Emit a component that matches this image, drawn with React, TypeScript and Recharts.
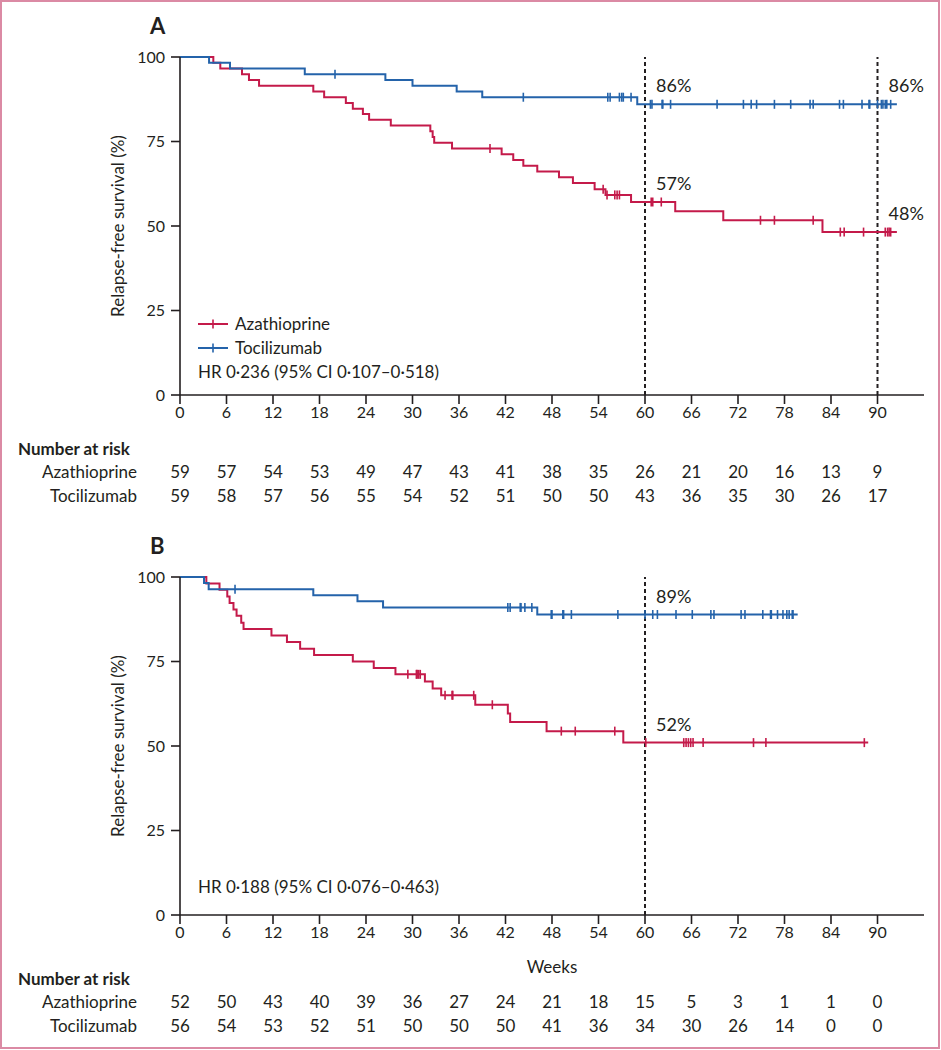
import {
    ComposedChart, Line, Scatter, XAxis, YAxis, ReferenceLine, ReferenceDot, Legend,
} from "recharts"

const INK = "#231f20"
const RED = "#c41a4a"
const BLUE = "#2463aa"
const FONT = "Lato, 'Open Sans', sans-serif"

const WEEK_TICKS = [0, 6, 12, 18, 24, 30, 36, 42, 48, 54, 60, 66, 72, 78, 84, 90]
const SURV_TICKS = [0, 25, 50, 75, 100]

// Panel A: step times (weeks) and survival (%) after each step, last point = end of follow-up
const A_AZA_TIMES = [0, 4.3, 5.2, 8.0, 8.9, 10.2, 17.2, 18.6, 21.4, 22.3, 23.6, 24.4, 27.2, 32.3, 32.6, 32.8, 35.1, 41.5, 43.0, 44.3, 46.1, 48.9, 50.7, 53.5, 54.9, 58.2, 63.9, 70.1, 82.9, 92.5]
const A_AZA_SURV = [100, 98.3, 96.6, 94.9, 93.2, 91.5, 89.8, 88.1, 86.4, 84.7, 83.1, 81.4, 79.7, 78.0, 76.3, 74.6, 72.9, 71.2, 69.5, 67.8, 66.1, 64.4, 62.7, 60.9, 59.2, 57.1, 54.4, 51.7, 48.2, 48.2]
const A_AZA_CENSOR = [40.0, 54.6, 55.1, 56.1, 56.4, 56.7, 60.8, 61.0, 62.1, 74.9, 76.7, 81.7, 85.2, 85.7, 88.2, 91.0, 91.3, 91.5, 91.7]

const A_TOC_TIMES = [0, 3.75, 6.45, 16.1, 26.5, 30.0, 35.7, 39.0, 59.0, 92.5]
const A_TOC_SURV = [100, 98.3, 96.6, 94.9, 93.2, 91.5, 89.8, 88.1, 86.0, 86.0]
const A_TOC_CENSOR = [20.0, 44.3, 55.2, 55.5, 56.7, 57.0, 57.2, 58.2, 60.7, 60.9, 62.2, 62.3, 63.3, 69.3, 72.7, 73.7, 74.4, 76.7, 78.8, 81.3, 81.7, 85.1, 85.6, 88.0, 88.9, 89.0, 90.0, 90.5, 90.7, 91.0, 91.2, 91.7]

const A_AZA_RISK = [59, 57, 54, 53, 49, 47, 43, 41, 38, 35, 26, 21, 20, 16, 13, 9]
const A_TOC_RISK = [59, 58, 57, 56, 55, 54, 52, 51, 50, 50, 43, 36, 35, 30, 26, 17]

const A_MARK_WEEKS = [60, 90]
const A_NOTES = [
    { t: 60, s: 86.0, text: "86%" },
    { t: 90, s: 86.0, text: "86%" },
    { t: 60, s: 57.1, text: "57%" },
    { t: 90, s: 48.2, text: "48%" },
]
const A_HR = "HR 0·236 (95% CI 0·107–0·518)"

// Panel B
const B_AZA_TIMES = [0, 3.4, 5.1, 6.1, 6.4, 6.9, 7.3, 7.9, 8.2, 11.8, 13.8, 15.5, 17.3, 22.3, 25.0, 27.8, 31.6, 32.6, 33.7, 38.1, 42.3, 42.6, 47.3, 57.2, 88.8]
const B_AZA_SURV = [100, 98.1, 96.2, 94.2, 92.3, 90.4, 88.5, 86.5, 84.6, 82.7, 80.8, 78.8, 76.9, 75.0, 73.1, 71.2, 69.1, 67.0, 65.0, 62.2, 59.6, 57.1, 54.4, 51.0, 51.0]
const B_AZA_CENSOR = [29.4, 30.5, 30.6, 30.8, 31.0, 34.2, 35.1, 35.2, 37.9, 40.3, 49.2, 51.0, 56.1, 60.1, 65.0, 65.3, 65.6, 65.9, 66.2, 67.5, 74.0, 75.6, 88.3]

const B_TOC_TIMES = [0, 3.1, 3.7, 17.2, 22.9, 26.2, 46.1, 79.7]
const B_TOC_SURV = [100, 98.2, 96.4, 94.6, 92.8, 91.0, 88.9, 88.9]
const B_TOC_CENSOR = [7.1, 42.3, 42.6, 43.9, 44.0, 44.5, 45.4, 47.9, 48.0, 49.4, 49.5, 50.5, 56.5, 60.0, 61.0, 61.6, 64.0, 66.1, 68.5, 68.9, 72.4, 72.9, 75.2, 76.2, 76.3, 77.1, 77.8, 78.3, 78.6, 79.0, 79.1]

const B_AZA_RISK = [52, 50, 43, 40, 39, 36, 27, 24, 21, 18, 15, 5, 3, 1, 1, 0]
const B_TOC_RISK = [56, 54, 53, 52, 51, 50, 50, 50, 41, 36, 34, 30, 26, 14, 0, 0]

const B_MARK_WEEKS = [60]
const B_NOTES = [
    { t: 60, s: 88.9, text: "89%" },
    { t: 60, s: 51.0, text: "52%" },
]
const B_HR = "HR 0·188 (95% CI 0·076–0·463)"

function toSteps(times: number[], surv: number[]) {
    return times.map((t, i) => ({ t, s: surv[i] }))
}

// survival level of the curve at a censoring time
function censorPoints(times: number[], surv: number[], censors: number[]) {
    return censors.map(t => {
        let s = surv[0]
        times.forEach((tt, i) => { if (tt <= t) s = surv[i] })
        return { t, s }
    })
}

function riskRows(counts: number[]) {
    return WEEK_TICKS.map((t, i) => ({ t, n: counts[i] }))
}

function CensorMark(props: any) {
    const { cx, cy, fill } = props
    if (cx == null || cy == null) return null
    return <line x1={cx} y1={cy - 4.5} x2={cx} y2={cy + 4.5} stroke={fill} strokeWidth={1.6} />
}

function RiskTick(props: any) {
    const { x, y, payload, counts, rowLabel, header } = props
    const i = WEEK_TICKS.indexOf(payload.value)
    if (i < 0) return null
    return (
        <g>
            {i === 0 && header ? <text x={x - 162} y={y - 6.5} fontSize={17} fontWeight={700} fill={INK}>Number at risk</text> : null}
            {i === 0 ? <text x={x - 43} y={y + 17} fontSize={17} textAnchor="end" fill={INK}>{rowLabel}</text> : null}
            <text x={x} y={y + 17} fontSize={17} textAnchor="middle" fill={INK}>{counts[i]}</text>
        </g>
    )
}

function PctLabel(props: any) {
    const { viewBox, text } = props
    if (!viewBox) return null
    return <text x={viewBox.x + 11} y={viewBox.y - 19} dominantBaseline="central" fontSize={18} fill={INK}>{text}</text>
}

function YTitle(props: any) {
    const vb = props.viewBox
    if (!vb) return null
    const cx = vb.x + vb.width - 63
    const cy = vb.y + vb.height / 2
    return (
        <text x={cx} y={cy} transform={`rotate(-90 ${cx} ${cy})`} textAnchor="middle" dominantBaseline="central" fontSize={17} fill={INK}>
            Relapse-free survival (%)
        </text>
    )
}

function WeeksTitle(props: any) {
    const vb = props.viewBox
    if (!vb) return null
    return <text x={vb.x + vb.width / 2} y={vb.y + 51} textAnchor="middle" dominantBaseline="central" fontSize={17} fill={INK}>Weeks</text>
}

function KeyIcon({ color }: { color: string }) {
    return (
        <svg width={30} height={12} style={{ marginRight: 7, display: "block" }}>
            <line x1={0} y1={6} x2={30} y2={6} stroke={color} strokeWidth={2} />
            <line x1={15} y1={1.5} x2={15} y2={10.5} stroke={color} strokeWidth={1.6} />
        </svg>
    )
}

function makeLegend(hr: string, showItems: boolean) {
    return (props: any) => {
        const items = (props.payload || []).filter((p: any) => p.type !== "none")
        return (
            <div style={{ fontFamily: FONT, fontSize: 17, color: INK, lineHeight: "24px" }}>
                {showItems && items.map((p: any) => (
                    <div key={p.value} style={{ display: "flex", alignItems: "center" }}>
                        <KeyIcon color={p.color} />
                        <span>{p.value}</span>
                    </div>
                ))}
                <div style={{ whiteSpace: "nowrap" }}>{hr}</div>
            </div>
        )
    }
}

interface PanelProps {
    letter: string
    top: number
    height: number
    aza: { times: number[]; surv: number[]; censor: number[]; risk: number[] }
    toc: { times: number[]; surv: number[]; censor: number[]; risk: number[] }
    marks: number[]
    notes: { t: number; s: number; text: string }[]
    hr: string
    legendTop: number
    showItems: boolean
    mainAxisHeight: number
    showWeeks: boolean
}

function Panel(p: PanelProps) {
    const azaSteps = toSteps(p.aza.times, p.aza.surv)
    const tocSteps = toSteps(p.toc.times, p.toc.surv)
    const azaCens = censorPoints(p.aza.times, p.aza.surv, p.aza.censor)
    const tocCens = censorPoints(p.toc.times, p.toc.surv, p.toc.censor)
    return (
        <div style={{ position: "absolute", left: 0, top: p.top }}>
            <div style={{ position: "absolute", left: 150, top: 15, fontSize: 22, fontWeight: 700, lineHeight: "22px", color: INK }}>{p.letter}</div>
            <ComposedChart width={941} height={p.height} margin={{ top: 57, right: 17, bottom: 3, left: 0 }}>
                <XAxis
                    xAxisId="main" dataKey="t" type="number" domain={[0, 96]} ticks={WEEK_TICKS} interval={0}
                    allowDataOverflow height={p.mainAxisHeight}
                    axisLine={{ stroke: INK, strokeWidth: 1.6 }} tickLine={{ stroke: INK, strokeWidth: 1.6 }}
                    tickSize={9} tickMargin={3} tick={{ fill: INK, fontSize: 16 }}
                    label={p.showWeeks ? <WeeksTitle /> : undefined}
                />
                <XAxis
                    xAxisId="riskAza" dataKey="t" type="number" domain={[0, 96]} ticks={WEEK_TICKS} interval={0} allowDataOverflow
                    height={24} axisLine={false} tickLine={false} tickSize={0} tickMargin={0}
                    tick={(tp: any) => <RiskTick {...tp} counts={p.aza.risk} rowLabel="Azathioprine" header />}
                />
                <XAxis
                    xAxisId="riskToc" dataKey="t" type="number" domain={[0, 96]} ticks={WEEK_TICKS} interval={0} allowDataOverflow
                    height={24} axisLine={false} tickLine={false} tickSize={0} tickMargin={0}
                    tick={(tp: any) => <RiskTick {...tp} counts={p.toc.risk} rowLabel="Tocilizumab" />}
                />
                <YAxis
                    dataKey="s" type="number" domain={[0, 100]} ticks={SURV_TICKS} width={180}
                    axisLine={{ stroke: INK, strokeWidth: 1.6 }} tickLine={{ stroke: INK, strokeWidth: 1.6 }}
                    tickSize={9} tickMargin={6} tick={{ fill: INK, fontSize: 16 }}
                    label={<YTitle />}
                />
                {p.marks.map(w => (
                    <ReferenceLine key={w} xAxisId="main" x={w} stroke={INK} strokeWidth={2} strokeDasharray="4 3" />
                ))}
                {/* number-at-risk rows: carried by their own axes, the lines themselves stay invisible */}
                <Line xAxisId="riskAza" data={riskRows(p.aza.risk)} dataKey="n" stroke="none" dot={false} activeDot={false} legendType="none" isAnimationActive={false} />
                <Line xAxisId="riskToc" data={riskRows(p.toc.risk)} dataKey="n" stroke="none" dot={false} activeDot={false} legendType="none" isAnimationActive={false} />
                <Line xAxisId="main" data={azaSteps} dataKey="s" name="Azathioprine" type="stepAfter" stroke={RED} strokeWidth={2} dot={false} activeDot={false} isAnimationActive={false} />
                <Line xAxisId="main" data={tocSteps} dataKey="s" name="Tocilizumab" type="stepAfter" stroke={BLUE} strokeWidth={2} dot={false} activeDot={false} isAnimationActive={false} />
                <Scatter xAxisId="main" data={azaCens} dataKey="s" fill={RED} shape={<CensorMark />} legendType="none" isAnimationActive={false} />
                <Scatter xAxisId="main" data={tocCens} dataKey="s" fill={BLUE} shape={<CensorMark />} legendType="none" isAnimationActive={false} />
                {p.notes.map((n, i) => (
                    <ReferenceDot key={i} xAxisId="main" x={n.t} y={n.s} r={0} fill="none" stroke="none" label={<PctLabel text={n.text} />} />
                ))}
                <Legend
                    layout="horizontal" verticalAlign="middle" align="center"
                    content={makeLegend(p.hr, p.showItems)}
                    wrapperStyle={{ position: "absolute", left: 198, top: p.legendTop, width: "auto" }}
                />
            </ComposedChart>
        </div>
    )
}

export default function App() {
    return (
        <div style={{ position: "absolute", left: 0, top: 0, width: 941, height: 1050, background: "#fff", fontFamily: FONT, color: INK }}>
            <div style={{ position: "absolute", left: 0, top: 0, width: 940, height: 1049, border: "2px solid #db8aa4", boxSizing: "border-box" }} />
            <Panel
                letter="A" top={0} height={512}
                aza={{ times: A_AZA_TIMES, surv: A_AZA_SURV, censor: A_AZA_CENSOR, risk: A_AZA_RISK }}
                toc={{ times: A_TOC_TIMES, surv: A_TOC_SURV, censor: A_TOC_CENSOR, risk: A_TOC_RISK }}
                marks={A_MARK_WEEKS} notes={A_NOTES} hr={A_HR} legendTop={312} showItems
                mainAxisHeight={66} showWeeks={false}
            />
            <Panel
                letter="B" top={520} height={522}
                aza={{ times: B_AZA_TIMES, surv: B_AZA_SURV, censor: B_AZA_CENSOR, risk: B_AZA_RISK }}
                toc={{ times: B_TOC_TIMES, surv: B_TOC_SURV, censor: B_TOC_CENSOR, risk: B_TOC_RISK }}
                marks={B_MARK_WEEKS} notes={B_NOTES} hr={B_HR} legendTop={355} showItems={false}
                mainAxisHeight={76} showWeeks
            />
        </div>
    )
}
